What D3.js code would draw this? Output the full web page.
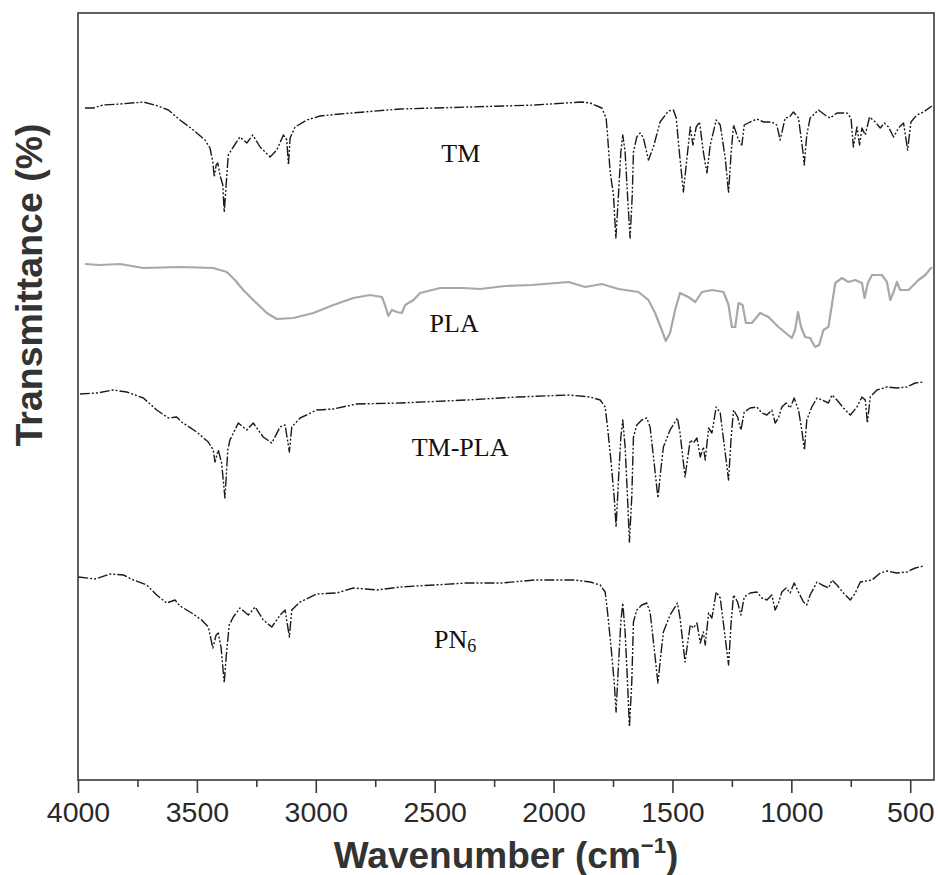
<!DOCTYPE html>
<html>
<head>
<meta charset="utf-8">
<script src="https://cdn.jsdelivr.net/npm/d3@7"></script>
<style>
    body { margin: 0; background: #fff; }
    svg { display: block; }
</style>
</head>
<body>
<div id="chart"></div>
<script>
// FTIR spectra: [wavenumber (cm-1), transmittance (a.u., curves stacked)]
const tmData = [
    [3971, 672], [3936, 672], [3894, 675], [3823, 676], [3725, 678], [3662, 674], [3620, 670],
    [3571, 660], [3515, 650], [3466, 640], [3445, 632], [3433, 618], [3427, 603], [3419, 615],
    [3412, 617], [3403, 605], [3391, 595], [3385, 568], [3377, 595], [3368, 625], [3347, 633],
    [3319, 643], [3290, 637], [3265, 645], [3234, 633], [3192, 623], [3164, 630], [3136, 645],
    [3122, 640], [3115, 615], [3108, 642], [3087, 653], [3038, 660], [2982, 664], [2898, 666],
    [2645, 671], [2351, 673], [2079, 675], [1883, 678], [1846, 677], [1797, 672], [1779, 662],
    [1773, 645], [1762, 608], [1748, 585], [1738, 542], [1727, 585], [1717, 628], [1709, 645],
    [1699, 628], [1689, 585], [1678, 542], [1669, 585], [1664, 628], [1650, 643], [1636, 647],
    [1622, 642], [1601, 620], [1580, 633], [1552, 658], [1517, 669], [1496, 670], [1484, 662],
    [1471, 628], [1454, 588], [1439, 622], [1425, 653], [1414, 635], [1400, 653], [1386, 658],
    [1370, 628], [1355, 607], [1341, 635], [1316, 660], [1299, 655], [1278, 622], [1264, 587],
    [1253, 628], [1243, 655], [1222, 640], [1208, 635], [1198, 655], [1173, 658], [1145, 661],
    [1117, 658], [1082, 658], [1061, 655], [1047, 640], [1026, 662], [1008, 663], [991, 668],
    [970, 662], [951, 628], [946, 615], [935, 645], [921, 662], [886, 670], [858, 665],
    [837, 662], [808, 667], [766, 667], [749, 662], [739, 633], [724, 653], [713, 635],
    [703, 652], [689, 645], [671, 663], [647, 658], [626, 652], [609, 657], [591, 653],
    [570, 643], [549, 652], [528, 657], [511, 630], [497, 658], [472, 665], [444, 668], [409, 674]
];

const plaData = [
    [3971, 516], [3907, 515], [3823, 516], [3725, 512], [3571, 513], [3431, 512], [3374, 508],
    [3340, 500], [3305, 490], [3263, 480], [3206, 467], [3164, 461], [3094, 462], [3010, 467],
    [2926, 475], [2842, 482], [2772, 485], [2722, 483], [2709, 475], [2695, 464], [2680, 470],
    [2659, 468], [2638, 467], [2624, 475], [2589, 480], [2561, 487], [2477, 492], [2379, 492],
    [2309, 491], [2204, 494], [2091, 495], [1937, 498], [1867, 493], [1797, 496], [1727, 491],
    [1643, 488], [1601, 480], [1573, 467], [1545, 450], [1528, 439], [1510, 447], [1489, 470],
    [1468, 487], [1433, 483], [1404, 478], [1376, 488], [1334, 490], [1285, 488], [1264, 475],
    [1250, 453], [1236, 453], [1222, 477], [1205, 475], [1191, 457], [1166, 457], [1131, 467],
    [1096, 463], [1054, 453], [998, 442], [984, 450], [972, 468], [959, 453], [942, 443],
    [921, 442], [900, 433], [883, 435], [865, 450], [844, 453], [815, 497], [787, 502],
    [760, 498], [731, 500], [703, 497], [692, 482], [678, 497], [661, 505], [619, 505],
    [598, 498], [584, 480], [570, 488], [556, 498], [542, 490], [507, 490], [465, 500],
    [437, 505], [409, 513]
];

const tmPlaData = [
    [3992, 386], [3921, 387], [3852, 390], [3795, 388], [3725, 382], [3669, 370], [3620, 362],
    [3585, 363], [3564, 358], [3501, 348], [3452, 338], [3431, 330], [3424, 318], [3410, 330],
    [3396, 317], [3382, 282], [3370, 330], [3361, 340], [3326, 357], [3290, 350], [3263, 357],
    [3221, 343], [3185, 337], [3150, 353], [3129, 355], [3111, 328], [3101, 353], [3066, 362],
    [2996, 370], [2926, 371], [2828, 376], [2645, 377], [2365, 380], [2149, 383], [1939, 385],
    [1846, 383], [1804, 380], [1783, 373], [1773, 353], [1759, 320], [1745, 283], [1737, 253],
    [1727, 300], [1717, 343], [1709, 360], [1699, 333], [1689, 283], [1681, 238], [1671, 283],
    [1664, 343], [1650, 355], [1629, 360], [1608, 362], [1594, 353], [1577, 317], [1561, 282],
    [1549, 310], [1538, 333], [1510, 350], [1479, 362], [1468, 347], [1447, 303], [1433, 327],
    [1425, 340], [1412, 337], [1397, 342], [1383, 323], [1370, 333], [1362, 320], [1348, 352],
    [1334, 347], [1316, 373], [1299, 367], [1278, 327], [1264, 300], [1253, 343], [1243, 370],
    [1226, 363], [1212, 350], [1198, 368], [1173, 372], [1145, 373], [1124, 367], [1103, 365],
    [1082, 370], [1068, 357], [1054, 362], [1040, 373], [1022, 377], [1005, 372], [988, 382],
    [970, 370], [956, 350], [945, 330], [935, 360], [914, 373], [892, 382], [871, 380],
    [844, 377], [829, 385], [808, 380], [781, 372], [752, 365], [724, 373], [703, 383],
    [689, 380], [680, 357], [668, 383], [640, 390], [598, 393], [556, 392], [514, 393],
    [479, 397], [444, 398]
];

const pn6Data = [
    [3999, 203], [3928, 201], [3865, 206], [3809, 205], [3767, 200], [3711, 195], [3669, 185],
    [3627, 177], [3592, 180], [3571, 174], [3522, 167], [3480, 160], [3452, 153], [3433, 132],
    [3419, 145], [3410, 147], [3398, 132], [3385, 97], [3377, 123], [3364, 155], [3347, 163],
    [3319, 172], [3284, 165], [3255, 173], [3221, 160], [3185, 153], [3150, 165], [3129, 170],
    [3111, 143], [3101, 170], [3066, 178], [2996, 186], [2912, 187], [2842, 192], [2743, 190],
    [2645, 193], [2365, 197], [2219, 197], [2079, 200], [1911, 200], [1846, 198], [1804, 195],
    [1783, 188], [1773, 168], [1759, 135], [1745, 98], [1737, 68], [1727, 115], [1717, 158],
    [1709, 177], [1699, 148], [1689, 98], [1681, 53], [1671, 98], [1664, 158], [1650, 170],
    [1629, 175], [1608, 177], [1594, 168], [1577, 132], [1561, 97], [1549, 125], [1538, 148],
    [1510, 165], [1479, 177], [1468, 162], [1447, 118], [1433, 142], [1425, 155], [1412, 152],
    [1397, 157], [1383, 137], [1370, 148], [1362, 135], [1348, 167], [1334, 162], [1316, 188],
    [1299, 182], [1278, 142], [1264, 115], [1253, 158], [1243, 185], [1226, 178], [1212, 165],
    [1198, 183], [1173, 187], [1145, 188], [1124, 182], [1103, 180], [1082, 185], [1068, 170],
    [1054, 177], [1040, 188], [1022, 192], [1005, 187], [988, 197], [970, 188], [949, 178],
    [935, 175], [921, 185], [892, 198], [871, 195], [844, 192], [829, 200], [808, 195],
    [781, 187], [752, 180], [731, 187], [710, 198], [661, 200], [626, 207], [598, 209],
    [556, 207], [514, 208], [479, 212], [444, 214]
];

const majorTicks = [4000, 3500, 3000, 2500, 2000, 1500, 1000, 500];
const minorTicks = [3750, 3250, 2750, 2250, 1750, 1250, 750];

const svgWidth = 938;
const svgHeight = 875;

const margin = {
    top: 13,
    right: 4,
    bottom: 95,
    left: 78
};

const chartWidth = svgWidth - margin.left - margin.right;
const chartHeight = svgHeight - margin.top - margin.bottom;

var svg = d3.select("#chart")
    .append("svg")
    .attr("width", svgWidth)
    .attr("height", svgHeight);

var chartGroup = svg.append("g")
    .attr("transform", `translate(${margin.left}, ${margin.top})`);

// wavenumber runs right to left
var xScale = d3.scaleLinear()
    .domain([4000, 400])
    .range([0, chartWidth]);

var yScale = d3.scaleLinear()
    .domain([0, 767])
    .range([chartHeight, 0]);

// frame
chartGroup.append("rect")
    .attr("x", 0)
    .attr("y", 0)
    .attr("width", chartWidth)
    .attr("height", chartHeight)
    .attr("fill", "none")
    .attr("stroke", "#3a3a3a")
    .attr("stroke-width", 1.6);

// minor ticks
var minorAxis = chartGroup.append("g")
    .attr("transform", `translate(0, ${chartHeight})`)
    .call(d3.axisBottom(xScale).tickValues(minorTicks).tickSize(7).tickFormat(""));
minorAxis.select(".domain").remove();

// major ticks + labels
var xAxis = chartGroup.append("g")
    .attr("transform", `translate(0, ${chartHeight})`)
    .call(d3.axisBottom(xScale).tickValues(majorTicks).tickSize(13).tickPadding(9).tickFormat(d3.format("d")));
xAxis.select(".domain").remove();

chartGroup.selectAll(".tick line")
    .attr("stroke", "#3a3a3a")
    .attr("stroke-width", 1.6);

xAxis.selectAll("text")
    .attr("font-family", "'Liberation Sans', Arial, sans-serif")
    .attr("font-size", 28.5)
    .attr("fill", "#2a2a2a");

// spectra
var line = d3.line()
    .x(d => xScale(d[0]))
    .y(d => yScale(d[1]))
    .curve(d3.curveLinear);

var blackSeries = [tmData, tmPlaData, pn6Data];

chartGroup.append("path")
    .datum(plaData)
    .attr("d", line)
    .attr("fill", "none")
    .attr("stroke", "#a8a8a8")
    .attr("stroke-width", 2.2)
    .attr("stroke-linejoin", "round");

chartGroup.selectAll(".spectrum")
    .data(blackSeries)
    .enter()
    .append("path")
    .classed("spectrum", true)
    .attr("d", line)
    .attr("fill", "none")
    .attr("stroke", "#1a1a1a")
    .attr("stroke-width", 1.4)
    .attr("stroke-dasharray", "10,2,2,2,2,2")
    .attr("stroke-linejoin", "round");

// curve labels
var labelFont = "'Liberation Serif', 'Times New Roman', serif";
var labels = [
    { text: "TM", w: 2390, v: 618 },
    { text: "PLA", w: 2418, v: 448 },
    { text: "TM-PLA", w: 2393, v: 324 }
];

chartGroup.selectAll(".curve-label")
    .data(labels)
    .enter()
    .append("text")
    .classed("curve-label", true)
    .attr("x", d => xScale(d.w))
    .attr("y", d => yScale(d.v))
    .attr("text-anchor", "middle")
    .attr("font-family", labelFont)
    .attr("font-size", 26)
    .attr("fill", "#111")
    .text(d => d.text);

var pnLabel = chartGroup.append("text")
    .attr("x", xScale(2414))
    .attr("y", yScale(132))
    .attr("text-anchor", "middle")
    .attr("font-family", labelFont)
    .attr("font-size", 26)
    .attr("fill", "#111");
pnLabel.append("tspan").text("PN");
pnLabel.append("tspan")
    .attr("font-size", 18)
    .attr("dy", 4)
    .text("6");

// axis titles
svg.append("text")
    .attr("transform", `translate(42, ${margin.top + 272}) rotate(-90)`)
    .attr("text-anchor", "middle")
    .attr("font-family", "'Liberation Sans', Arial, sans-serif")
    .attr("font-weight", "bold")
    .attr("font-size", 37.5)
    .attr("fill", "#333")
    .text("Transmittance (%)");

var xTitle = svg.append("text")
    .attr("x", 506)
    .attr("y", 868)
    .attr("text-anchor", "middle")
    .attr("font-family", "'Liberation Sans', Arial, sans-serif")
    .attr("font-weight", "bold")
    .attr("font-size", 37)
    .attr("fill", "#333");
xTitle.append("tspan").text("Wavenumber (cm");
xTitle.append("tspan")
    .attr("font-size", 22)
    .attr("dy", -15)
    .text("\u22121");
xTitle.append("tspan")
    .attr("dy", 15)
    .text(")");
</script>
</body>
</html>
